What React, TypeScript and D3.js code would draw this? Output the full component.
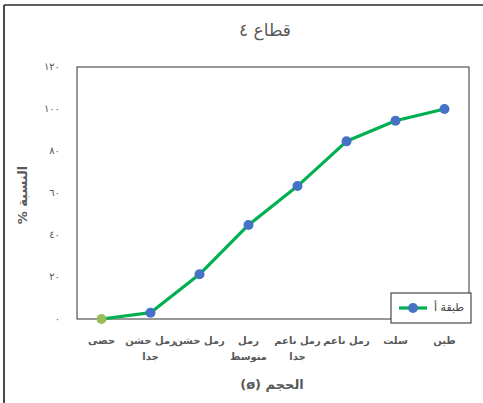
import React from "react";
import * as d3 from "d3";

const title = "قطاع ٤";
const categories = [
  "حصى",
  "رمل خشن جدا",
  "رمل خشن",
  "رمل متوسط",
  "رمل ناعم جدا",
  "رمل ناعم",
  "سلت",
  "طين",
];
const values = [0, 3, 21.3, 44.8, 63.3, 84.6, 94.4, 100];
const yTicks = [0, 20, 40, 60, 80, 100, 120];
const seriesName = "طبقة أ";
const yTitle = "النسبة %";
const xTitle = "الحجم (ø)";

const W = 483;
const H = 403;
const plot = { left: 77, top: 67, right: 469, bottom: 319 };
const FONT = "'DejaVu Sans', 'Liberation Sans', sans-serif";
const GRAY = "#595959";

const arabicDigits = (s: string) =>
  s.replace(/[0-9]/g, (d) => "٠١٢٣٤٥٦٧٨٩"[+d]);

function wrap(label: string, maxChars = 8): string[] {
  const words = label.split(" ");
  const lines: string[] = [];
  let cur = "";
  for (const w of words) {
    const next = cur ? cur + " " + w : w;
    if (next.length > maxChars && cur) {
      lines.push(cur);
      cur = w;
    } else cur = next;
  }
  if (cur) lines.push(cur);
  return lines;
}

export default function App() {
  const x = d3
    .scaleBand<string>()
    .domain(categories)
    .range([plot.left, plot.right]);
  const y = d3.scaleLinear().domain([0, 120]).range([plot.bottom, plot.top]);
  const cx = (c: string) => (x(c) as number) + x.bandwidth() / 2;
  const data = categories.map((c, i) => ({ c, v: values[i] }));
  const line = d3
    .line<{ c: string; v: number }>()
    .x((d) => cx(d.c))
    .y((d) => y(d.v));

  return (
    <svg
      width={W}
      height={H}
      style={{ position: "absolute", left: 0, top: 0, background: "#fff" }}
      fontFamily={FONT}
    >
      <rect x={0} y={0} width={W} height={H} fill="#fff" />
      {/* outer frame (left + top) */}
      <line x1={4} y1={5} x2={4} y2={H} stroke="#4a4a4a" strokeWidth={2} />
      <line x1={4} y1={5} x2={W} y2={5} stroke="#2a2a2a" strokeWidth={1.5} />

      {/* title */}
      <text
        x={265}
        y={36}
        textAnchor="middle"
        direction="rtl"
        fontSize={17}
        fill={GRAY}
      >
        {title}
      </text>

      {/* plot box */}
      <rect
        x={plot.left}
        y={plot.top}
        width={plot.right - plot.left}
        height={plot.bottom - plot.top}
        fill="none"
        stroke="#333"
        strokeWidth={1}
      />

      {/* y tick labels */}
      {yTicks.map((t) => (
        <text
          key={t}
          x={60}
          y={y(t)}
          textAnchor="end"
          dominantBaseline="middle"
          fontSize={10}
          fill={GRAY}
        >
          {arabicDigits(String(t))}
        </text>
      ))}

      {/* y title */}
      <text
        transform={`translate(27,195) rotate(-90)`}
        textAnchor="middle"
        direction="rtl"
        fontSize={13}
        fontWeight="bold"
        fill={GRAY}
      >
        {yTitle}
      </text>

      {/* x labels */}
      {categories.map((c) =>
        wrap(c).map((ln, j) => (
          <text
            key={c + j}
            x={cx(c)}
            y={344 + j * 16}
            textAnchor="middle"
            direction="rtl"
            fontSize={10}
            fontWeight="bold"
            fill={GRAY}
          >
            {ln}
          </text>
        ))
      )}

      {/* x title */}
      <text
        x={272}
        y={389}
        textAnchor="middle"
        direction="rtl"
        fontSize={13}
        fontWeight="bold"
        fill={GRAY}
      >
        {xTitle}
      </text>

      {/* series */}
      <path
        d={line(data) || ""}
        fill="none"
        stroke="#00B050"
        strokeWidth={3.2}
        strokeLinejoin="round"
      />
      {data.map((d, i) => (
        <circle
          key={d.c}
          cx={cx(d.c)}
          cy={y(d.v)}
          r={5}
          fill={i === 0 ? "#9BBB59" : "#4472C4"}
        />
      ))}

      {/* legend */}
      <rect x={391} y={293} width={80} height={30} fill="#fff" stroke="#222" strokeWidth={1} />
      <line x1={399} y1={308} x2={427} y2={308} stroke="#00B050" strokeWidth={3.2} />
      <circle cx={413} cy={308} r={5} fill="#4472C4" />
      <text
        x={449}
        y={308}
        textAnchor="middle"
        dominantBaseline="middle"
        direction="rtl"
        fontSize={11}
        fill="#404040"
      >
        {seriesName}
      </text>
    </svg>
  );
}
